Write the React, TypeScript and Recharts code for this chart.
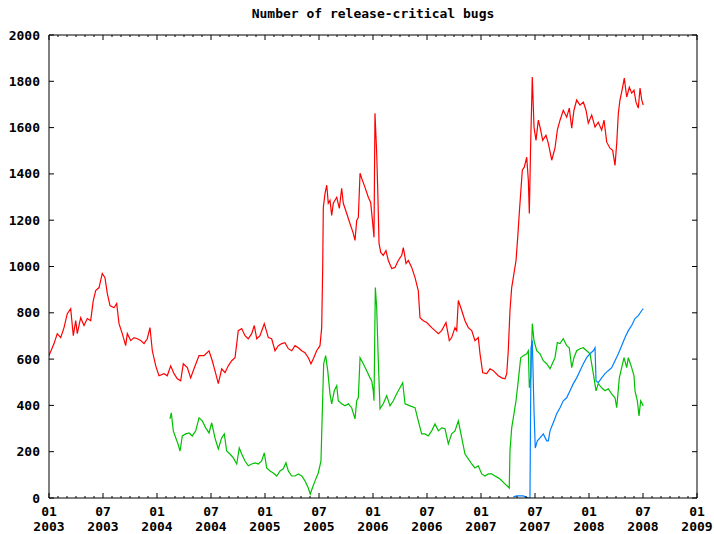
import { LineChart, Line, XAxis, YAxis } from "recharts";

const TITLE = "Number of release-critical bugs";

// x = months counted from January 2003
const xMajorTicks = [0, 6, 12, 18, 24, 30, 36, 42, 48, 54, 60, 66, 72];
const xMonthLabels = ["01", "07", "01", "07", "01", "07", "01", "07", "01", "07", "01", "07", "01"];
const xYearLabels = ["2003", "2003", "2004", "2004", "2005", "2005", "2006", "2006", "2007", "2007", "2008", "2008", "2009"];
const yTicks = [0, 200, 400, 600, 800, 1000, 1200, 1400, 1600, 1800, 2000];

const redBugs: [number, number][] = [
  [0.0, 615], [0.56, 667], [0.92, 710], [1.3, 693], [1.67, 736], [2.03, 796], [2.41, 818], [2.7, 701],
  [2.97, 766], [3.14, 710], [3.52, 779], [3.89, 745], [4.26, 775], [4.63, 766], [4.92, 853], [5.19, 896],
  [5.56, 909], [5.92, 970], [6.22, 952], [6.48, 883], [6.78, 831], [7.22, 822], [7.52, 840], [7.78, 753],
  [8.14, 710], [8.52, 658], [8.7, 710], [9.08, 680], [9.44, 693], [9.81, 688], [10.19, 680], [10.56, 667],
  [10.92, 688], [11.22, 736], [11.48, 636], [11.86, 571], [12.22, 528], [12.78, 537], [13.14, 528], [13.52, 571],
  [13.89, 537], [14.26, 515], [14.63, 506], [14.92, 580], [15.37, 563], [15.74, 519], [16.11, 558], [16.67, 615],
  [17.22, 615], [17.78, 636], [18.14, 593], [18.44, 550], [18.81, 494], [19.19, 558], [19.56, 541], [19.92, 571],
  [20.3, 593], [20.67, 606], [21.03, 723], [21.41, 732], [21.78, 701], [22.14, 688], [22.52, 710], [22.81, 745],
  [23.08, 688], [23.44, 701], [23.92, 753], [24.37, 693], [24.74, 688], [25.11, 636], [25.48, 658], [25.86, 667],
  [26.22, 671], [26.59, 645], [26.97, 636], [27.33, 658], [27.7, 649], [28.08, 636], [28.44, 628], [28.81, 606],
  [29.11, 580], [29.37, 602], [29.74, 636], [30.11, 658], [30.3, 736], [30.41, 996], [30.48, 1255], [30.67, 1316],
  [30.86, 1351], [31.03, 1273], [31.22, 1286], [31.41, 1221], [31.59, 1273], [31.97, 1299], [32.26, 1251], [32.52, 1338],
  [32.7, 1273], [33.08, 1229], [33.44, 1186], [33.81, 1143], [34.0, 1113], [34.19, 1199], [34.37, 1212], [34.56, 1403],
  [34.74, 1381], [35.11, 1342], [35.48, 1299], [35.74, 1277], [35.97, 1186], [36.11, 1126], [36.22, 1662], [36.41, 1489],
  [36.52, 1342], [36.67, 1100], [36.86, 1061], [37.14, 1048], [37.44, 1069], [37.7, 1026], [38.08, 991], [38.44, 996],
  [38.81, 1026], [39.19, 1048], [39.37, 1082], [39.67, 1013], [39.92, 1026], [40.3, 996], [40.67, 952], [41.03, 896],
  [41.22, 779], [41.59, 766], [41.97, 758], [42.52, 736], [42.89, 723], [43.26, 710], [43.63, 723], [44.11, 758],
  [44.48, 680], [44.74, 693], [45.11, 736], [45.3, 723], [45.48, 853], [45.86, 810], [46.22, 766], [46.59, 736],
  [46.97, 723], [47.33, 680], [47.7, 693], [47.89, 623], [48.19, 541], [48.63, 537], [49.0, 558], [49.37, 550],
  [49.92, 528], [50.3, 519], [50.67, 515], [50.86, 537], [51.03, 636], [51.22, 810], [51.41, 909], [51.59, 952],
  [51.89, 1026], [52.08, 1126], [52.26, 1234], [52.41, 1316], [52.59, 1416], [52.81, 1429], [53.08, 1472], [53.26, 1372],
  [53.37, 1229], [53.52, 1532], [53.7, 1818], [53.89, 1602], [54.11, 1545], [54.37, 1632], [54.56, 1602], [54.86, 1545],
  [55.22, 1567], [55.48, 1532], [55.86, 1459], [56.22, 1511], [56.48, 1589], [56.78, 1632], [57.14, 1675], [57.52, 1645],
  [57.81, 1684], [58.08, 1597], [58.33, 1675], [58.63, 1719], [59.0, 1697], [59.37, 1710], [59.67, 1675], [59.92, 1619],
  [60.3, 1654], [60.67, 1602], [61.03, 1623], [61.41, 1589], [61.67, 1632], [61.97, 1537], [62.33, 1511], [62.63, 1502],
  [62.89, 1437], [63.08, 1532], [63.26, 1662], [63.44, 1719], [63.74, 1775], [63.92, 1814], [64.19, 1732], [64.48, 1775],
  [64.74, 1749], [65.0, 1762], [65.22, 1710], [65.48, 1684], [65.67, 1771], [65.86, 1719], [66.03, 1697],
];

const greenBugs: [number, number][] = [
  [13.44, 342], [13.59, 368], [13.81, 290], [14.08, 260], [14.33, 234], [14.56, 203], [14.81, 268], [15.19, 277],
  [15.56, 281], [15.92, 268], [16.3, 290], [16.67, 346], [17.03, 333], [17.41, 303], [17.78, 281], [18.08, 325],
  [18.44, 260], [18.81, 212], [19.19, 260], [19.48, 277], [19.74, 203], [20.11, 190], [20.48, 173], [20.86, 147],
  [21.14, 216], [21.41, 190], [21.78, 160], [22.14, 139], [22.52, 147], [22.89, 152], [23.26, 147], [23.63, 160],
  [23.92, 195], [24.19, 130], [24.56, 117], [24.92, 108], [25.3, 95], [25.67, 117], [26.03, 126], [26.33, 152],
  [26.59, 117], [26.97, 95], [27.33, 95], [27.7, 104], [28.08, 95], [28.44, 74], [28.81, 43], [29.03, 17],
  [29.26, 43], [29.56, 74], [29.92, 108], [30.22, 160], [30.37, 377], [30.52, 580], [30.74, 615], [30.97, 550],
  [31.22, 450], [31.41, 407], [31.7, 463], [31.97, 485], [32.14, 420], [32.52, 407], [32.89, 398], [33.26, 407],
  [33.63, 390], [34.0, 342], [34.19, 420], [34.37, 433], [34.56, 606], [34.92, 580], [35.3, 550], [35.67, 519],
  [35.86, 506], [36.03, 463], [36.11, 420], [36.26, 909], [36.41, 822], [36.59, 593], [36.78, 385], [37.14, 407],
  [37.52, 442], [37.89, 398], [38.26, 420], [38.63, 450], [39.0, 476], [39.3, 498], [39.56, 407], [40.11, 398],
  [40.67, 390], [41.03, 333], [41.41, 277], [41.78, 277], [42.14, 268], [42.52, 290], [42.89, 320], [43.26, 290],
  [43.63, 303], [44.0, 299], [44.37, 234], [44.74, 277], [45.11, 290], [45.48, 333], [45.86, 260], [46.22, 190],
  [46.59, 169], [46.97, 147], [47.33, 130], [47.7, 139], [48.08, 104], [48.44, 95], [48.81, 104], [49.19, 104],
  [49.56, 95], [49.92, 87], [50.11, 82], [50.67, 61], [51.14, 43], [51.22, 203], [51.41, 303], [51.59, 346],
  [51.89, 420], [52.14, 506], [52.41, 606], [52.7, 615], [53.08, 623], [53.26, 636], [53.37, 476], [53.52, 519],
  [53.7, 753], [53.89, 680], [54.19, 636], [54.56, 623], [54.92, 593], [55.3, 580], [55.67, 558], [55.97, 584],
  [56.22, 606], [56.48, 671], [56.78, 667], [57.14, 688], [57.52, 658], [57.81, 649], [58.08, 563], [58.33, 606],
  [58.63, 636], [59.0, 645], [59.37, 649], [59.74, 636], [60.11, 623], [60.48, 537], [60.78, 463], [61.03, 494],
  [61.41, 476], [61.78, 463], [62.14, 472], [62.52, 450], [62.89, 433], [63.08, 390], [63.37, 519], [63.63, 563],
  [63.89, 606], [64.19, 563], [64.37, 606], [64.74, 563], [65.0, 528], [65.11, 463], [65.37, 420], [65.56, 355],
  [65.74, 420], [66.03, 398],
];

const blueBugs: [number, number][] = [
  [51.59, 5], [51.97, 9], [52.7, 9], [53.26, 0], [53.44, 0], [53.56, 649], [53.7, 680], [53.89, 377],
  [54.03, 216], [54.26, 247], [54.56, 260], [54.92, 277], [55.3, 247], [55.48, 247], [55.67, 290], [56.03, 325],
  [56.41, 364], [56.78, 390], [57.14, 420], [57.52, 433], [57.89, 463], [58.26, 494], [58.63, 519], [59.0, 550],
  [59.37, 580], [59.74, 606], [60.11, 623], [60.48, 636], [60.67, 649], [60.78, 506], [61.03, 498], [61.41, 519],
  [61.78, 537], [62.14, 550], [62.52, 563], [62.89, 593], [63.26, 623], [63.63, 658], [64.0, 693], [64.37, 723],
  [64.74, 745], [65.11, 775], [65.48, 788], [65.86, 810], [66.03, 818],
];

const allMonths = Array.from({ length: 73 }, (_, i) => i);

const FONT = "'DejaVu Sans Mono', monospace";

const toPoints = (pairs: [number, number][]) => pairs.map(([m, v]) => ({ m, v }));

function BottomTick(props: any) {
  const { x, y, payload } = props;
  const idx = xMajorTicks.indexOf(payload.value);
  const major = idx >= 0;
  return (
    <g>
      <line x1={x} x2={x} y1={y} y2={y - (major ? 5 : 2)} stroke="#000" />
      {major && (
        <text x={x} y={y + 18} textAnchor="middle" fontFamily={FONT} fontWeight="bold" fontSize={13} fill="#000">
          {xMonthLabels[idx]}
        </text>
      )}
      {major && (
        <text x={x} y={y + 33} textAnchor="middle" fontFamily={FONT} fontWeight="bold" fontSize={13} fill="#000">
          {xYearLabels[idx]}
        </text>
      )}
    </g>
  );
}

function TopTick(props: any) {
  const { x, y, payload } = props;
  const major = xMajorTicks.includes(payload.value);
  return <line x1={x} x2={x} y1={y} y2={y + (major ? 5 : 2)} stroke="#000" />;
}

function LeftTick(props: any) {
  const { x, y, payload } = props;
  return (
    <g>
      <line x1={x} x2={x + 5} y1={y} y2={y} stroke="#000" />
      <text x={x - 9} y={y} dy="0.35em" textAnchor="end" fontFamily={FONT} fontWeight="bold" fontSize={13} fill="#000">
        {payload.value}
      </text>
    </g>
  );
}

function RightTick(props: any) {
  const { x, y } = props;
  return <line x1={x} x2={x - 5} y1={y} y2={y} stroke="#000" />;
}

export default function App() {
  return (
    <div style={{ position: "absolute", left: 0, top: 0, width: 714, height: 534, background: "#fff" }}>
      <div
        style={{
          position: "absolute",
          left: 49,
          top: 6,
          width: 648,
          textAlign: "center",
          fontFamily: FONT,
          fontWeight: "bold",
          fontSize: 13,
          lineHeight: "15px",
        }}
      >
        {TITLE}
      </div>
      <LineChart width={714} height={534} margin={{ top: 34, right: 16, bottom: 0, left: 0 }}>
        <XAxis
          dataKey="m"
          type="number"
          domain={[0, 72]}
          ticks={allMonths}
          interval={0}
          height={36}
          tickSize={0}
          tickMargin={0}
          tickLine={false}
          axisLine={{ stroke: "#000" }}
          tick={(p: any) => <BottomTick {...p} />}
          allowDataOverflow
        />
        <XAxis
          xAxisId="top"
          orientation="top"
          dataKey="m"
          type="number"
          domain={[0, 72]}
          ticks={allMonths}
          interval={0}
          height={1}
          tickSize={0}
          tickMargin={0}
          tickLine={false}
          axisLine={{ stroke: "#000" }}
          tick={(p: any) => <TopTick {...p} />}
          allowDataOverflow
        />
        <YAxis
          type="number"
          domain={[0, 2000]}
          ticks={yTicks}
          interval={0}
          width={49}
          tickSize={0}
          tickMargin={0}
          tickLine={false}
          axisLine={{ stroke: "#000" }}
          tick={(p: any) => <LeftTick {...p} />}
          allowDataOverflow
        />
        <YAxis
          yAxisId="right"
          orientation="right"
          type="number"
          domain={[0, 2000]}
          ticks={yTicks}
          interval={0}
          width={1}
          tickSize={0}
          tickMargin={0}
          tickLine={false}
          axisLine={{ stroke: "#000" }}
          tick={(p: any) => <RightTick {...p} />}
          allowDataOverflow
        />
        <Line data={toPoints(redBugs)} dataKey="v" type="linear" stroke="#ff0000" strokeWidth={1.2} dot={false} isAnimationActive={false} />
        <Line data={toPoints(greenBugs)} dataKey="v" type="linear" stroke="#00c000" strokeWidth={1.2} dot={false} isAnimationActive={false} />
        <Line data={toPoints(blueBugs)} dataKey="v" type="linear" stroke="#0080ff" strokeWidth={1.2} dot={false} isAnimationActive={false} />
      </LineChart>
    </div>
  );
}
